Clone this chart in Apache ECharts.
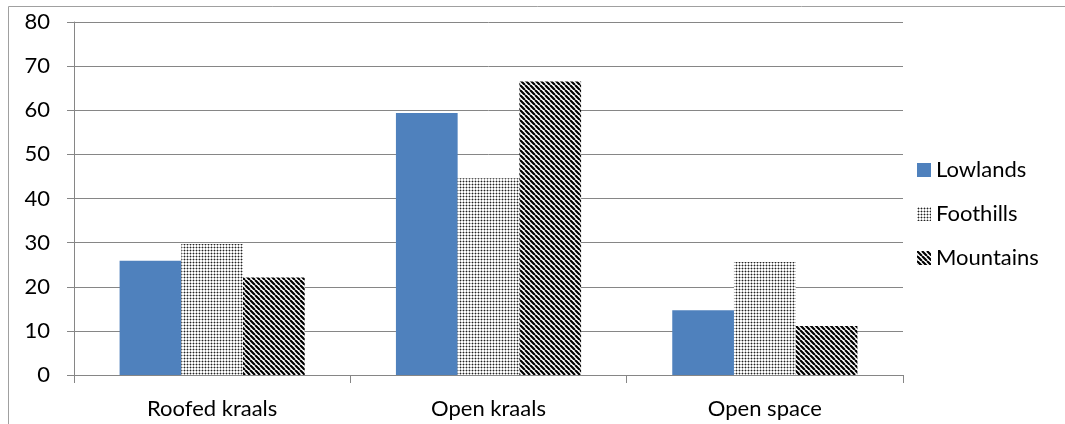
<!DOCTYPE html>
<html>
<head>
<meta charset="utf-8">
<script src="https://cdn.jsdelivr.net/npm/echarts@6/dist/echarts.min.js"></script>
<style>
html,body{margin:0;padding:0;background:#fff;}
#chart{width:1065px;height:424px;}
</style>
</head>
<body>
<div id="chart"></div>
<script>
const categories = ['Roofed kraals', 'Open kraals', 'Open space'];
const lowlands = [25.9, 59.4, 14.7];
const foothills = [29.7, 44.6, 25.6];
const mountains = [22.1, 66.5, 11.1];
const seriesNames = ['Lowlands', 'Foothills', 'Mountains'];
const yTicks = { min: 0, max: 80, interval: 10 };

function dotPattern() {
  const c = document.createElement('canvas');
  c.width = 3; c.height = 3;
  const ctx = c.getContext('2d');
  ctx.fillStyle = '#ffffff';
  ctx.fillRect(0, 0, 3, 3);
  ctx.fillStyle = '#b0b0b0';
  ctx.fillRect(0, 1, 1, 1);
  ctx.fillRect(1, 0, 1, 1);
  ctx.fillRect(2, 1, 1, 1);
  ctx.fillRect(1, 2, 1, 1);
  ctx.fillStyle = '#222222';
  ctx.fillRect(1, 1, 1, 1);
  return c;
}
function stripePattern() {
  const s = 5;
  const c = document.createElement('canvas');
  c.width = s; c.height = s;
  const ctx = c.getContext('2d');
  ctx.fillStyle = '#ffffff';
  ctx.fillRect(0, 0, s, s);
  ctx.strokeStyle = '#000000';
  ctx.lineWidth = 2.2;
  ctx.beginPath();
  for (let k = -1; k <= 1; k++) {
    ctx.moveTo(k * s, 0);
    ctx.lineTo(k * s + s, s);
  }
  ctx.stroke();
  return c;
}

const font = 'Lato, "Open Sans", sans-serif';
const chart = echarts.init(document.getElementById('chart'), null, { renderer: 'canvas' });
chart.setOption({
  animation: false,
  backgroundColor: '#ffffff',
  graphic: [{
    type: 'rect',
    shape: { x: 8.5, y: 6.5, width: 1070, height: 430 },
    style: { fill: 'none', stroke: '#a0a0a0', lineWidth: 1 },
    silent: true
  }],
  grid: { left: 74, right: 162, top: 22, bottom: 49, containLabel: false },
  legend: {
    orient: 'vertical',
    left: 917,
    top: 159,
    padding: 0,
    itemWidth: 14,
    itemHeight: 14,
    itemGap: 22,
    icon: 'rect',
    textStyle: { fontFamily: font, fontSize: 22, color: '#000' },
    data: seriesNames
  },
  xAxis: {
    type: 'category',
    data: categories,
    axisLine: { show: true, lineStyle: { color: '#868686', width: 1 } },
    axisTick: { show: true, length: 8, lineStyle: { color: '#868686' } },
    axisLabel: { fontFamily: font, fontSize: 22, color: '#000', margin: 23 },
    splitLine: { show: false }
  },
  yAxis: {
    type: 'value',
    min: yTicks.min,
    max: yTicks.max,
    interval: yTicks.interval,
    axisLine: { show: true, lineStyle: { color: '#868686', width: 1 } },
    axisTick: { show: true, length: 7, lineStyle: { color: '#868686' } },
    axisLabel: { fontFamily: font, fontSize: 22, color: '#000', margin: 24 },
    splitLine: { show: true, lineStyle: { color: '#868686', width: 1 } }
  },
  series: [
    { name: seriesNames[0], type: 'bar', data: lowlands, barGap: '0%', barCategoryGap: '33%',
      itemStyle: { color: '#4f81bd' } },
    { name: seriesNames[1], type: 'bar', data: foothills, barGap: '0%', barCategoryGap: '33%',
      itemStyle: { color: { image: dotPattern(), repeat: 'repeat' } } },
    { name: seriesNames[2], type: 'bar', data: mountains, barGap: '0%', barCategoryGap: '33%',
      itemStyle: { color: { image: stripePattern(), repeat: 'repeat' } } }
  ]
});
</script>
</body>
</html>
